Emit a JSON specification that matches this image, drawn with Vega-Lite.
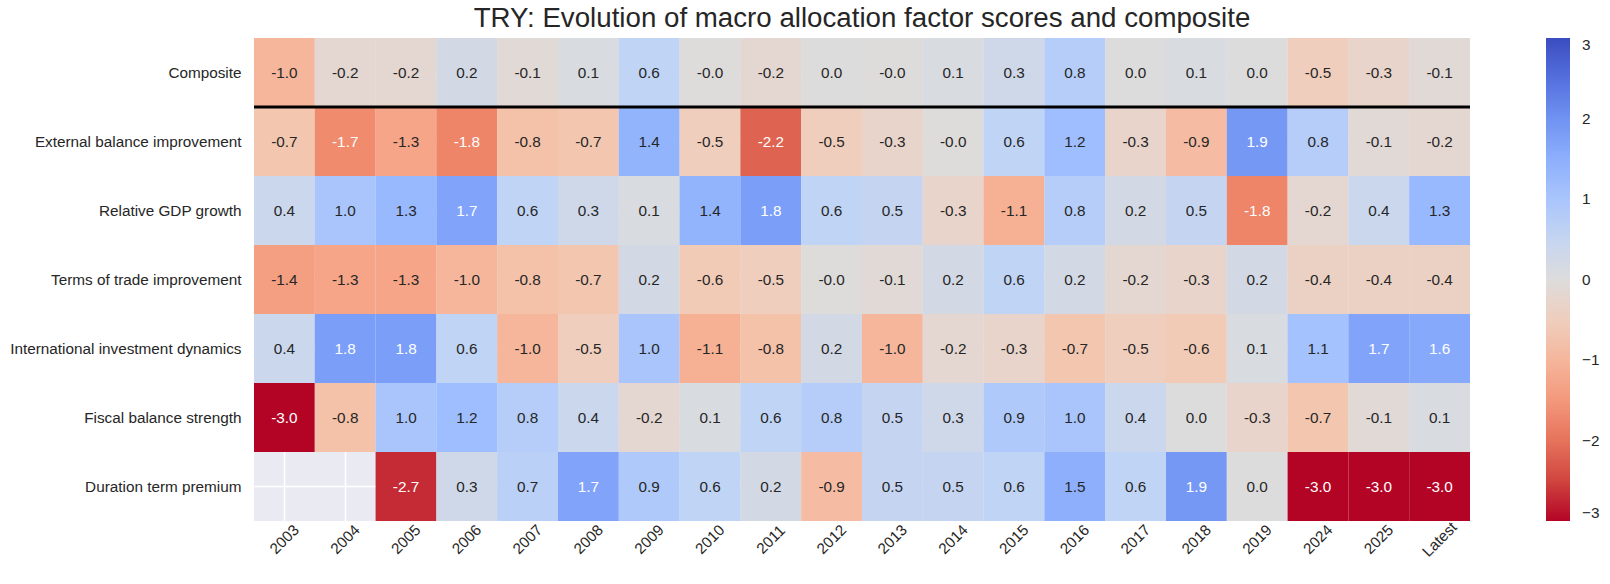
{
  "$schema": "https://vega.github.io/schema/vega-lite/v6.json",
  "autosize": {"type": "none"},
  "padding": {"left": 254, "top": 38, "right": 140, "bottom": 63},
  "width": 1216,
  "height": 483,
  "background": "white",
  "config": {
    "font": "Liberation Sans",
    "view": {"fill": "#EAEAF2", "stroke": null},
    "axis": {"zindex": 0}
  },
  "title": {
    "text": "TRY: Evolution of macro allocation factor scores and composite",
    "fontSize": 27.7,
    "fontWeight": "normal",
    "color": "#262626",
    "anchor": "middle",
    "frame": "group",
    "baseline": "alphabetic",
    "offset": -17
  },
  "data": {
    "values": [
      {"factor": "Composite", "year": "2003", "v": -1.0},
      {"factor": "Composite", "year": "2004", "v": -0.2},
      {"factor": "Composite", "year": "2005", "v": -0.2},
      {"factor": "Composite", "year": "2006", "v": 0.2},
      {"factor": "Composite", "year": "2007", "v": -0.1},
      {"factor": "Composite", "year": "2008", "v": 0.1},
      {"factor": "Composite", "year": "2009", "v": 0.6},
      {"factor": "Composite", "year": "2010", "v": -0.02},
      {"factor": "Composite", "year": "2011", "v": -0.2},
      {"factor": "Composite", "year": "2012", "v": 0.0},
      {"factor": "Composite", "year": "2013", "v": -0.02},
      {"factor": "Composite", "year": "2014", "v": 0.1},
      {"factor": "Composite", "year": "2015", "v": 0.3},
      {"factor": "Composite", "year": "2016", "v": 0.8},
      {"factor": "Composite", "year": "2017", "v": 0.0},
      {"factor": "Composite", "year": "2018", "v": 0.1},
      {"factor": "Composite", "year": "2019", "v": 0.0},
      {"factor": "Composite", "year": "2024", "v": -0.5},
      {"factor": "Composite", "year": "2025", "v": -0.3},
      {"factor": "Composite", "year": "Latest", "v": -0.1},
      {"factor": "External balance improvement", "year": "2003", "v": -0.7},
      {"factor": "External balance improvement", "year": "2004", "v": -1.7},
      {"factor": "External balance improvement", "year": "2005", "v": -1.3},
      {"factor": "External balance improvement", "year": "2006", "v": -1.8},
      {"factor": "External balance improvement", "year": "2007", "v": -0.8},
      {"factor": "External balance improvement", "year": "2008", "v": -0.7},
      {"factor": "External balance improvement", "year": "2009", "v": 1.4},
      {"factor": "External balance improvement", "year": "2010", "v": -0.5},
      {"factor": "External balance improvement", "year": "2011", "v": -2.2},
      {"factor": "External balance improvement", "year": "2012", "v": -0.5},
      {"factor": "External balance improvement", "year": "2013", "v": -0.3},
      {"factor": "External balance improvement", "year": "2014", "v": -0.02},
      {"factor": "External balance improvement", "year": "2015", "v": 0.6},
      {"factor": "External balance improvement", "year": "2016", "v": 1.2},
      {"factor": "External balance improvement", "year": "2017", "v": -0.3},
      {"factor": "External balance improvement", "year": "2018", "v": -0.9},
      {"factor": "External balance improvement", "year": "2019", "v": 1.9},
      {"factor": "External balance improvement", "year": "2024", "v": 0.8},
      {"factor": "External balance improvement", "year": "2025", "v": -0.1},
      {"factor": "External balance improvement", "year": "Latest", "v": -0.2},
      {"factor": "Relative GDP growth", "year": "2003", "v": 0.4},
      {"factor": "Relative GDP growth", "year": "2004", "v": 1.0},
      {"factor": "Relative GDP growth", "year": "2005", "v": 1.3},
      {"factor": "Relative GDP growth", "year": "2006", "v": 1.7},
      {"factor": "Relative GDP growth", "year": "2007", "v": 0.6},
      {"factor": "Relative GDP growth", "year": "2008", "v": 0.3},
      {"factor": "Relative GDP growth", "year": "2009", "v": 0.1},
      {"factor": "Relative GDP growth", "year": "2010", "v": 1.4},
      {"factor": "Relative GDP growth", "year": "2011", "v": 1.8},
      {"factor": "Relative GDP growth", "year": "2012", "v": 0.6},
      {"factor": "Relative GDP growth", "year": "2013", "v": 0.5},
      {"factor": "Relative GDP growth", "year": "2014", "v": -0.3},
      {"factor": "Relative GDP growth", "year": "2015", "v": -1.1},
      {"factor": "Relative GDP growth", "year": "2016", "v": 0.8},
      {"factor": "Relative GDP growth", "year": "2017", "v": 0.2},
      {"factor": "Relative GDP growth", "year": "2018", "v": 0.5},
      {"factor": "Relative GDP growth", "year": "2019", "v": -1.8},
      {"factor": "Relative GDP growth", "year": "2024", "v": -0.2},
      {"factor": "Relative GDP growth", "year": "2025", "v": 0.4},
      {"factor": "Relative GDP growth", "year": "Latest", "v": 1.3},
      {"factor": "Terms of trade improvement", "year": "2003", "v": -1.4},
      {"factor": "Terms of trade improvement", "year": "2004", "v": -1.3},
      {"factor": "Terms of trade improvement", "year": "2005", "v": -1.3},
      {"factor": "Terms of trade improvement", "year": "2006", "v": -1.0},
      {"factor": "Terms of trade improvement", "year": "2007", "v": -0.8},
      {"factor": "Terms of trade improvement", "year": "2008", "v": -0.7},
      {"factor": "Terms of trade improvement", "year": "2009", "v": 0.2},
      {"factor": "Terms of trade improvement", "year": "2010", "v": -0.6},
      {"factor": "Terms of trade improvement", "year": "2011", "v": -0.5},
      {"factor": "Terms of trade improvement", "year": "2012", "v": -0.02},
      {"factor": "Terms of trade improvement", "year": "2013", "v": -0.1},
      {"factor": "Terms of trade improvement", "year": "2014", "v": 0.2},
      {"factor": "Terms of trade improvement", "year": "2015", "v": 0.6},
      {"factor": "Terms of trade improvement", "year": "2016", "v": 0.2},
      {"factor": "Terms of trade improvement", "year": "2017", "v": -0.2},
      {"factor": "Terms of trade improvement", "year": "2018", "v": -0.3},
      {"factor": "Terms of trade improvement", "year": "2019", "v": 0.2},
      {"factor": "Terms of trade improvement", "year": "2024", "v": -0.4},
      {"factor": "Terms of trade improvement", "year": "2025", "v": -0.4},
      {"factor": "Terms of trade improvement", "year": "Latest", "v": -0.4},
      {"factor": "International investment dynamics", "year": "2003", "v": 0.4},
      {"factor": "International investment dynamics", "year": "2004", "v": 1.8},
      {"factor": "International investment dynamics", "year": "2005", "v": 1.8},
      {"factor": "International investment dynamics", "year": "2006", "v": 0.6},
      {"factor": "International investment dynamics", "year": "2007", "v": -1.0},
      {"factor": "International investment dynamics", "year": "2008", "v": -0.5},
      {"factor": "International investment dynamics", "year": "2009", "v": 1.0},
      {"factor": "International investment dynamics", "year": "2010", "v": -1.1},
      {"factor": "International investment dynamics", "year": "2011", "v": -0.8},
      {"factor": "International investment dynamics", "year": "2012", "v": 0.2},
      {"factor": "International investment dynamics", "year": "2013", "v": -1.0},
      {"factor": "International investment dynamics", "year": "2014", "v": -0.2},
      {"factor": "International investment dynamics", "year": "2015", "v": -0.3},
      {"factor": "International investment dynamics", "year": "2016", "v": -0.7},
      {"factor": "International investment dynamics", "year": "2017", "v": -0.5},
      {"factor": "International investment dynamics", "year": "2018", "v": -0.6},
      {"factor": "International investment dynamics", "year": "2019", "v": 0.1},
      {"factor": "International investment dynamics", "year": "2024", "v": 1.1},
      {"factor": "International investment dynamics", "year": "2025", "v": 1.7},
      {"factor": "International investment dynamics", "year": "Latest", "v": 1.6},
      {"factor": "Fiscal balance strength", "year": "2003", "v": -3.0},
      {"factor": "Fiscal balance strength", "year": "2004", "v": -0.8},
      {"factor": "Fiscal balance strength", "year": "2005", "v": 1.0},
      {"factor": "Fiscal balance strength", "year": "2006", "v": 1.2},
      {"factor": "Fiscal balance strength", "year": "2007", "v": 0.8},
      {"factor": "Fiscal balance strength", "year": "2008", "v": 0.4},
      {"factor": "Fiscal balance strength", "year": "2009", "v": -0.2},
      {"factor": "Fiscal balance strength", "year": "2010", "v": 0.1},
      {"factor": "Fiscal balance strength", "year": "2011", "v": 0.6},
      {"factor": "Fiscal balance strength", "year": "2012", "v": 0.8},
      {"factor": "Fiscal balance strength", "year": "2013", "v": 0.5},
      {"factor": "Fiscal balance strength", "year": "2014", "v": 0.3},
      {"factor": "Fiscal balance strength", "year": "2015", "v": 0.9},
      {"factor": "Fiscal balance strength", "year": "2016", "v": 1.0},
      {"factor": "Fiscal balance strength", "year": "2017", "v": 0.4},
      {"factor": "Fiscal balance strength", "year": "2018", "v": 0.0},
      {"factor": "Fiscal balance strength", "year": "2019", "v": -0.3},
      {"factor": "Fiscal balance strength", "year": "2024", "v": -0.7},
      {"factor": "Fiscal balance strength", "year": "2025", "v": -0.1},
      {"factor": "Fiscal balance strength", "year": "Latest", "v": 0.1},
      {"factor": "Duration term premium", "year": "2003", "v": null},
      {"factor": "Duration term premium", "year": "2004", "v": null},
      {"factor": "Duration term premium", "year": "2005", "v": -2.7},
      {"factor": "Duration term premium", "year": "2006", "v": 0.3},
      {"factor": "Duration term premium", "year": "2007", "v": 0.7},
      {"factor": "Duration term premium", "year": "2008", "v": 1.7},
      {"factor": "Duration term premium", "year": "2009", "v": 0.9},
      {"factor": "Duration term premium", "year": "2010", "v": 0.6},
      {"factor": "Duration term premium", "year": "2011", "v": 0.2},
      {"factor": "Duration term premium", "year": "2012", "v": -0.9},
      {"factor": "Duration term premium", "year": "2013", "v": 0.5},
      {"factor": "Duration term premium", "year": "2014", "v": 0.5},
      {"factor": "Duration term premium", "year": "2015", "v": 0.6},
      {"factor": "Duration term premium", "year": "2016", "v": 1.5},
      {"factor": "Duration term premium", "year": "2017", "v": 0.6},
      {"factor": "Duration term premium", "year": "2018", "v": 1.9},
      {"factor": "Duration term premium", "year": "2019", "v": 0.0},
      {"factor": "Duration term premium", "year": "2024", "v": -3.0},
      {"factor": "Duration term premium", "year": "2025", "v": -3.0},
      {"factor": "Duration term premium", "year": "Latest", "v": -3.0}
    ]
  },
  "layer": [
    {
      "transform": [{"filter": "datum.v != null"}],
      "mark": {"type": "rect"},
      "encoding": {
        "x": {
          "field": "year", "type": "nominal",
          "scale": {"domain": ["2003","2004","2005","2006","2007","2008","2009","2010","2011","2012","2013","2014","2015","2016","2017","2018","2019","2024","2025","Latest"], "paddingInner": 0, "paddingOuter": 0},
          "axis": {"title": null, "labelAngle": -45, "labelAlign": "center", "labelBaseline": "middle", "labelFontSize": 15.3, "labelColor": "#262626", "ticks": false, "domain": false, "labelPadding": 18, "grid": true, "gridColor": "white", "gridWidth": 1.5, "bandPosition": 0.5, "labelOverlap": false, "zindex": 0}
        },
        "y": {
          "field": "factor", "type": "nominal",
          "scale": {"domain": ["Composite","External balance improvement","Relative GDP growth","Terms of trade improvement","International investment dynamics","Fiscal balance strength","Duration term premium"], "paddingInner": 0, "paddingOuter": 0},
          "axis": {"title": null, "labelFontSize": 15.3, "labelColor": "#262626", "ticks": false, "domain": false, "labelPadding": 13, "grid": true, "gridColor": "white", "gridWidth": 1.5, "bandPosition": 0.5, "labelLimit": 0, "zindex": 0}
        },
        "color": {
          "field": "v", "type": "quantitative",
          "scale": {
            "domain": [-3, -2.4, -1.8, -1.2, -0.6, 0, 0.6, 1.2, 1.8, 2.4, 3],
            "range": ["#b40426", "#d65244", "#ee8468", "#f7ac8e", "#f2cbb7", "#dddcdc", "#c0d4f5", "#9ebeff", "#7b9ff9", "#5977e3", "#3b4cc0"],
            "interpolate": "rgb"
          },
          "legend": {
            "title": null, "orient": "right", "offset": 76, "direction": "vertical",
            "gradientLength": 483, "gradientThickness": 24, "gradientStrokeWidth": 0,
            "labelFontSize": 15.3, "labelColor": "#262626", "labelOffset": 12,
            "values": [-3, -2, -1, 0, 1, 2, 3],
            "labelExpr": "datum.value < 0 ? '\u2212' + format(abs(datum.value), 'd') : format(datum.value, 'd')"
          }
        }
      }
    },
    {
      "transform": [
        {"filter": "datum.v != null"},
        {"calculate": "(datum.v < 0 ? '-' : '') + format(abs(datum.v), '.1f')", "as": "label"}
      ],
      "mark": {"type": "text", "fontSize": 15.3, "baseline": "middle", "align": "center"},
      "encoding": {
        "x": {"field": "year", "type": "nominal"},
        "y": {"field": "factor", "type": "nominal"},
        "text": {"field": "label", "type": "nominal"},
        "color": {"condition": {"test": "abs(datum.v) >= 1.55", "value": "white"}, "value": "#262626"}
      }
    },
    {
      "data": {"values": [{"factor": "Composite"}]},
      "mark": {"type": "rule", "color": "black", "strokeWidth": 3},
      "encoding": {
        "y": {"field": "factor", "type": "nominal", "bandPosition": 1}
      }
    }
  ]
}
